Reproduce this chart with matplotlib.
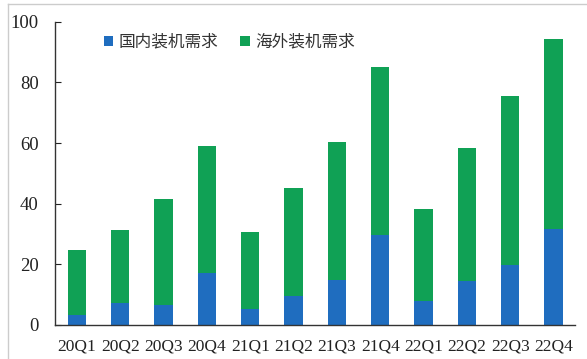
import matplotlib.pyplot as plt
import numpy as np
from matplotlib.lines import Line2D

plt.rcParams['font.family'] = ['Liberation Serif', 'Noto Sans CJK SC']

quarters = ['20Q1', '20Q2', '20Q3', '20Q4', '21Q1', '21Q2', '21Q3', '21Q4',
            '22Q1', '22Q2', '22Q3', '22Q4']
domestic = [3.3, 7.2, 6.7, 17.2, 5.2, 9.7, 14.7, 29.6, 7.8, 14.6, 19.7, 31.7]
total = [24.7, 31.2, 41.5, 59.2, 30.8, 45.2, 60.3, 85.1, 38.1, 58.3, 75.4, 94.4]
overseas = [t - d for t, d in zip(total, domestic)]

blue = '#1f6dbf'
green = '#10a155'

fig = plt.figure(figsize=(5.87, 3.59), dpi=100)
ax = fig.add_axes([0.094, 0.095, 0.886, 0.844])

x = np.arange(len(quarters))
ax.bar(x, domestic, width=0.42, color=blue, label='国内装机需求')
ax.bar(x, overseas, width=0.42, bottom=domestic, color=green, label='海外装机需求')

ax.set_ylim(0, 100)
ax.set_xlim(-0.5, len(quarters) - 0.5)
ax.set_yticks([0, 20, 40, 60, 80, 100])
ax.set_xticks(x)
ax.set_xticklabels(quarters)
ax.tick_params(axis='y', direction='in', length=4, labelsize=13.5, pad=12,
               colors='#222222')
ax.tick_params(axis='x', length=0, labelsize=12.5, pad=10, colors='#222222')
for s in ['top', 'right']:
    ax.spines[s].set_visible(False)
for s in ['left', 'bottom']:
    ax.spines[s].set_color('#333333')
    ax.spines[s].set_linewidth(1.0)

leg = ax.legend(loc='upper left', bbox_to_anchor=(0.065, 1.01), ncol=2,
                frameon=False, handlelength=0.55, handleheight=0.55,
                handletextpad=0.35, columnspacing=1.3,
                prop={'family': ['Noto Sans CJK SC'], 'size': 12})
for t in leg.get_texts():
    t.set_color('#333333')

# outer frame lines of the screenshot
fig.add_artist(Line2D([0.014, 0.014], [0.0, 0.989], color='#cccccc', lw=1))
fig.add_artist(Line2D([0.014, 1.0], [0.989, 0.989], color='#cccccc', lw=1))

fig.savefig('out.png', dpi=100)
